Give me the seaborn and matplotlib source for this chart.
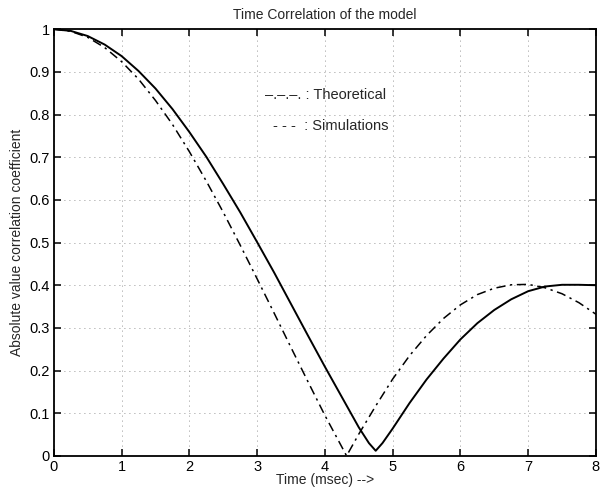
import numpy as np
import pandas as pd
import matplotlib
matplotlib.use("Agg")
from matplotlib import pyplot as plt
import seaborn as sns

# Values
theo_t = [0, 0.25, 0.5, 0.75, 1.0, 1.25, 1.5, 1.75, 2.0, 2.25, 2.5, 2.75, 3.0, 3.25,
          3.5, 3.75, 4.0, 4.25, 4.32, 4.5, 4.75, 5.0, 5.25, 5.5, 5.75, 6.0, 6.25, 6.5,
          6.75, 7.0, 7.25, 7.5, 7.75, 8.0]
theo_r = [1.0, 0.995, 0.981, 0.957, 0.924, 0.883, 0.833, 0.777, 0.713, 0.644, 0.571,
          0.494, 0.415, 0.335, 0.254, 0.174, 0.095, 0.021, 0.0, 0.051, 0.117, 0.180,
          0.235, 0.282, 0.322, 0.354, 0.378, 0.393, 0.401, 0.402, 0.394, 0.380, 0.359,
          0.332]

sim_t = [0, 0.25, 0.5, 0.75, 1.0, 1.25, 1.5, 1.75, 2.0, 2.25, 2.5, 2.75, 3.0, 3.25,
         3.5, 3.75, 4.0, 4.25, 4.5, 4.65, 4.75, 4.85, 5.0, 5.25, 5.5, 5.75, 6.0, 6.25,
         6.5, 6.75, 7.0, 7.25, 7.5, 7.75, 8.0]
sim_r = [1.0, 0.996, 0.984, 0.964, 0.937, 0.902, 0.861, 0.813, 0.759, 0.701, 0.637,
         0.571, 0.501, 0.430, 0.356, 0.282, 0.209, 0.138, 0.067, 0.030, 0.012, 0.030,
         0.064, 0.124, 0.179, 0.228, 0.273, 0.311, 0.342, 0.367, 0.386, 0.397, 0.401,
         0.401, 0.400]

x_ticks = [0, 1, 2, 3, 4, 5, 6, 7, 8]
y_ticks = [0, 0.1, 0.2, 0.3, 0.4, 0.5, 0.6, 0.7, 0.8, 0.9, 1]
y_labels = ['0', '0.1', '0.2', '0.3', '0.4', '0.5', '0.6', '0.7', '0.8', '0.9', '1']

theo = pd.DataFrame({'t': theo_t, 'r': theo_r})
sim = pd.DataFrame({'t': sim_t, 'r': sim_r})

sns.set_theme(style="white")
plt.rcParams['font.family'] = ['Liberation Sans', 'DejaVu Sans']

fig = plt.figure(figsize=(6.05, 4.95), dpi=100)
ax = fig.add_axes([0.089, 0.079, 0.896, 0.862])

sns.lineplot(data=theo, x='t', y='r', ax=ax, color='black', lw=1.1,
             linestyle=(0, (6, 3, 1.5, 3)), sort=False)
sns.lineplot(data=sim, x='t', y='r', ax=ax, color='black', lw=1.4, sort=False)

ax.set_xlim(0, 8)
ax.set_ylim(0, 1)
ax.set_xticks(x_ticks)
ax.set_xticklabels([str(v) for v in x_ticks])
ax.set_yticks(y_ticks)
ax.set_yticklabels(y_labels)
ax.grid(True, color='black', linestyle=(0, (1, 5)), lw=0.6, alpha=0.55)
for s in ax.spines.values():
    s.set_color('black')
    s.set_linewidth(1.3)
ax.tick_params(direction='in', length=5, width=1.1, top=True, right=True,
               bottom=True, left=True, labelsize=10.5, colors='black', pad=3)

ax.set_xlabel('Time (msec) -->', fontsize=10, labelpad=-1)
ax.set_ylabel('Absolute value correlation coefficient', fontsize=10, labelpad=4)
ax.set_title('Time Correlation of the model', fontsize=10, pad=7)

ax.text(3.11, 0.845, '\u2013.\u2013.\u2013. : Theoretical', fontsize=10.5,
        va='center', ha='left')
ax.text(3.23, 0.773, '- - -  : Simulations', fontsize=10.5,
        va='center', ha='left')

fig.savefig('out.png', dpi=100)
